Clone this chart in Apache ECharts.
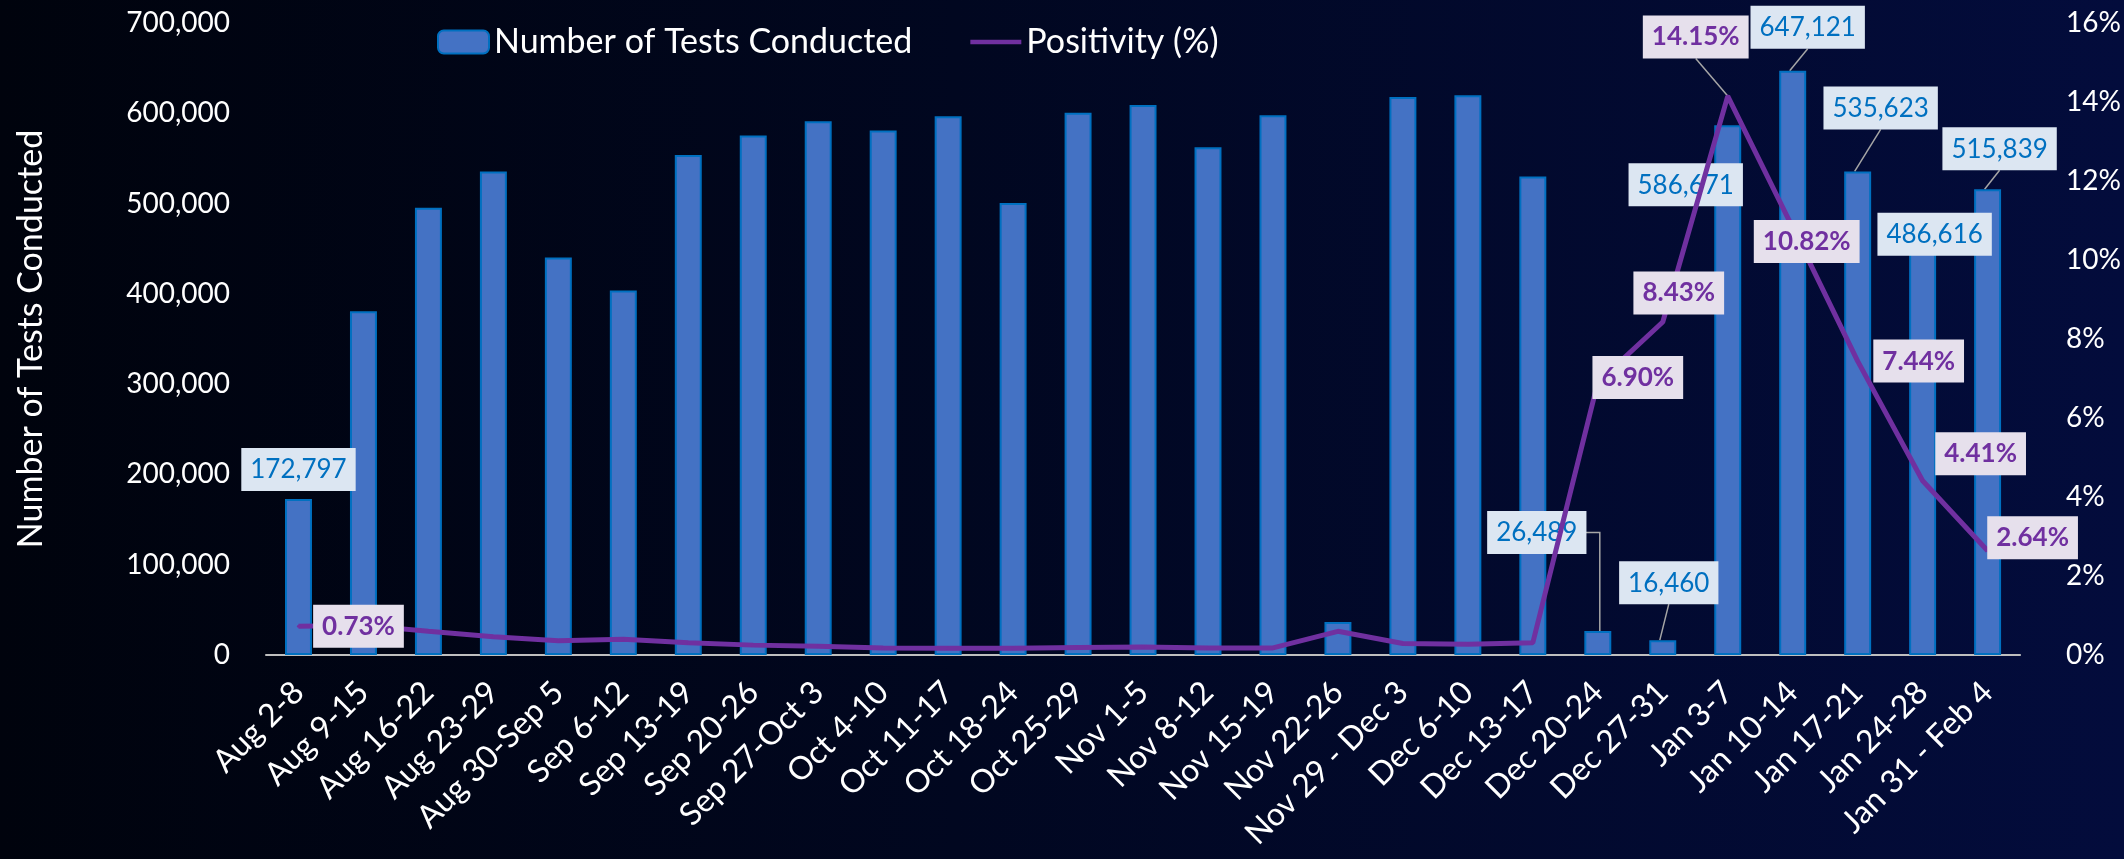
<!DOCTYPE html>
<html><head><meta charset="utf-8">
<script src="https://cdn.jsdelivr.net/npm/echarts@6/dist/echarts.min.js"></script>
<style>
html,body{margin:0;padding:0;width:2124px;height:859px;overflow:hidden;
background:linear-gradient(to right,#00030d 0%,#010720 45%,#030c3c 100%);}
#c{width:2124px;height:859px;}
</style>
</head><body><div id="c"></div>
<script>
const categories = ["Aug 2-8","Aug 9-15","Aug 16-22","Aug 23-29","Aug 30-Sep 5","Sep 6-12","Sep 13-19","Sep 20-26","Sep 27-Oct 3","Oct 4-10","Oct 11-17","Oct 18-24","Oct 25-29","Nov 1-5","Nov 8-12","Nov 15-19","Nov 22-26","Nov 29 - Dec 3","Dec 6-10","Dec 13-17","Dec 20-24","Dec 27-31","Jan 3-7","Jan 10-14","Jan 17-21","Jan 24-28","Jan 31 - Feb 4"];
const testsConducted = [172797,380800,495400,535623,440300,403700,553700,575400,591100,581000,596700,500600,600700,609200,562500,597900,36600,618000,620000,530000,26489,16460,586671,647121,535623,486616,515839];
const positivity = [0.73,0.75,0.60,0.46,0.36,0.40,0.31,0.25,0.22,0.18,0.17,0.17,0.19,0.20,0.18,0.18,0.60,0.29,0.27,0.31,6.90,8.43,14.15,10.82,7.44,4.41,2.64];
const leftTicks = {min:0, max:700000, interval:100000};
const rightTicks = {min:0, max:16, interval:2};

// label placement (shifts in px, relative to the default anchor)
const testLabelShift = {0:[0,-8],20:[-61,-77],21:[6,-36],22:[-42,81],23:[15,-22],24:[23,-42],25:[12,40],26:[12,-19]};
const testLeaders = [20,21,23,24,26];
const testElbowLeaders = {20:true};
const posLabelShift = {0:[60,0],20:[40,-5],21:[16,-29],22:[-32,-59],23:[14,14],24:[61,0],25:[58,-27],26:[45,-13]};
const posLeaders = [22];

const FONT = 'Lato, "Open Sans", sans-serif';
const LABEL_H = 43, LABEL_HALF_W = 49;
function fmt(n){return String(n).replace(/\B(?=(\d{3})+(?!\d))/g, ',');}

const barData = testsConducted.map((v,i)=> testLabelShift[i] ? {value:v, label:{show:true}} : v);
const lineData = positivity.map((v,i)=> posLabelShift[i] ? {value:v, label:{show:true}} : v);
function shiftLayout(map){
  return function(p){
    const o = map[p.dataIndex];
    return o ? {dx:o[0], dy:o[1]} : {};
  };
}
const leaderStyle = {stroke:'#A6A6A6', lineWidth:1.5, fill:null};

// leader lines: from the moved label to its bar top / line point
function barLeader(params, api){
  const i = api.value(0);
  const p = api.coord([i, api.value(1)]);
  const o = testLabelShift[i];
  const lx = p[0] + o[0], ly = p[1] + o[1];       // label bottom-centre
  let pts;
  if (testElbowLeaders[i]) {
    const my = ly - LABEL_H / 2;
    pts = [[lx + LABEL_HALF_W, my], [p[0] + 2, my], [p[0] + 2, p[1]]];
  } else {
    pts = [[lx, ly], [p[0] - 3, p[1]]];
  }
  return {type:'polyline', shape:{points:pts}, style:leaderStyle, silent:true};
}
function posLeader(params, api){
  const i = api.value(0);
  const p = api.coord([i, api.value(1)]);
  const o = posLabelShift[i];
  const lx = p[0] + o[0], ly = p[1] + o[1] + LABEL_H / 2;   // label bottom-centre
  return {type:'polyline', shape:{points:[[lx, ly], [p[0], p[1]]]}, style:leaderStyle, silent:true};
}

const chart = echarts.init(document.getElementById('c'), null, {renderer:'canvas'});
chart.setOption({
  backgroundColor:'transparent',
  animation:false,
  textStyle:{fontFamily:FONT},
  legend:{
    left:432, top:20, itemWidth:51, itemHeight:23, itemGap:58, symbolKeepAspect:true,
    textStyle:{color:'#ffffff', fontSize:34, fontFamily:FONT},
    data:[{name:'Number of Tests Conducted'},
          {name:'Positivity (%)', icon:'path://M0,0L100,0L100,9L0,9Z'}]
  },
  grid:{left:266, right:103, top:23, bottom:204, containLabel:false},
  xAxis:{
    type:'category', data:categories,
    axisLine:{lineStyle:{color:'#BFBFBF', width:2}},
    axisTick:{show:false},
    axisLabel:{interval:0, rotate:45, color:'#ffffff', fontSize:32, fontFamily:FONT, margin:32}
  },
  yAxis:[{
    type:'value', min:leftTicks.min, max:leftTicks.max, interval:leftTicks.interval,
    name:'Number of Tests Conducted', nameLocation:'middle', nameGap:218,
    nameTextStyle:{color:'#ffffff', fontSize:34, fontFamily:FONT},
    axisLine:{show:false}, axisTick:{show:false}, splitLine:{show:false},
    axisLabel:{color:'#ffffff', fontSize:28, fontFamily:FONT, margin:36, formatter:v=>fmt(v)}
  },{
    type:'value', min:rightTicks.min, max:rightTicks.max, interval:rightTicks.interval,
    axisLine:{show:false}, axisTick:{show:false}, splitLine:{show:false},
    axisLabel:{color:'#ffffff', fontSize:28, fontFamily:FONT, margin:46, formatter:v=>v+'%'}
  }],
  series:[{
    name:'Number of Tests Conducted', type:'bar', yAxisIndex:0, data:barData,
    barWidth:'41.5%',
    itemStyle:{color:'#4472C4', borderColor:'#0070C0', borderWidth:2},
    label:{show:false, position:'top', distance:0, formatter:p=>fmt(p.value),
      color:'#0070C0', backgroundColor:'#DCE6F2', padding:[9,9,8,9], fontSize:26, fontFamily:FONT},
    labelLayout:shiftLayout(testLabelShift)
  },{
    name:'Positivity (%)', type:'line', yAxisIndex:1, data:lineData,
    symbol:'circle', symbolSize:3, showSymbol:true,
    itemStyle:{color:'#7030A0'},
    lineStyle:{color:'#7030A0', width:5},
    label:{show:false, position:'inside', formatter:p=>p.value.toFixed(2)+'%',
      color:'#7030A0', fontWeight:'bold', backgroundColor:'#E6E0EC', padding:[9,9,8,9], fontSize:26, fontFamily:FONT},
    labelLayout:shiftLayout(posLabelShift)
  },{
    name:'barLeaders', type:'custom', yAxisIndex:0, silent:true, clip:false, z:1,
    data:testLeaders.map(i=>[i, testsConducted[i]]),
    renderItem:barLeader
  },{
    name:'posLeaders', type:'custom', yAxisIndex:1, silent:true, clip:false, z:1,
    data:posLeaders.map(i=>[i, positivity[i]]),
    renderItem:posLeader
  }]
});
</script>
</body></html>
